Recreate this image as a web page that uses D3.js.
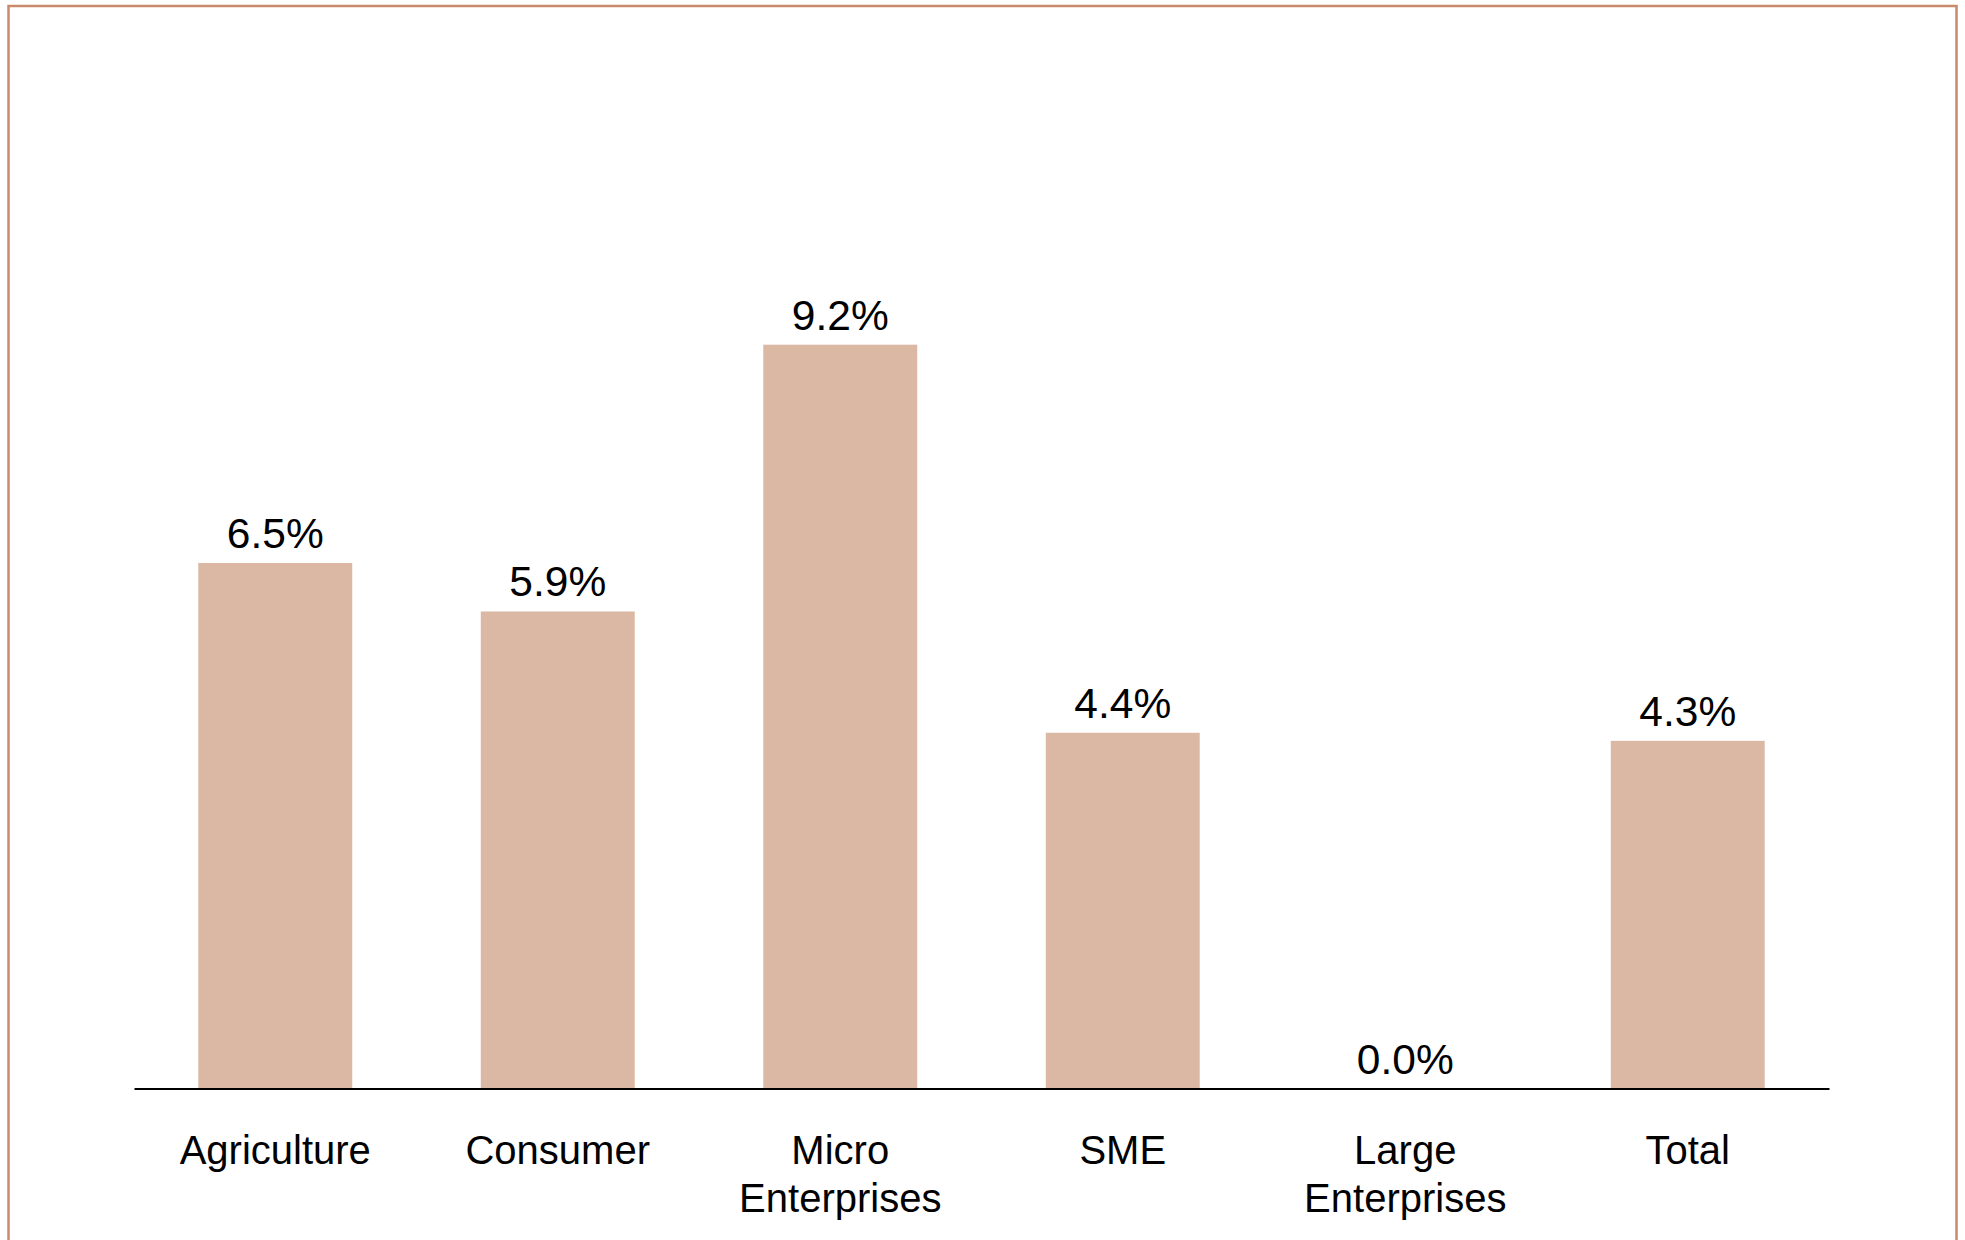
<!DOCTYPE html>
<html>
<head>
<meta charset="utf-8">
<script src="https://cdn.jsdelivr.net/npm/d3@7/dist/d3.min.js"></script>
<style>
  html, body { margin: 0; padding: 0; background: #fff; }
  svg { display: block; }
</style>
</head>
<body>
<div id="chart"></div>
<script>
// NPL ratio by loan segment
const categories = ["Agriculture", "Consumer", "Micro\nEnterprises", "SME", "Large\nEnterprises", "Total"];
const values = [6.5, 5.9, 9.2, 4.4, 0.0, 4.3];

const W = 1965, H = 1240;
const svg = d3.select("#chart").append("svg")
  .attr("width", W).attr("height", H);

// outer frame (bottom edge runs off the page)
svg.append("rect")
  .attr("x", 8.5).attr("y", 6).attr("width", 1948).attr("height", 1300)
  .attr("fill", "none").attr("stroke", "#C98A6B").attr("stroke-width", 2.5);

const x = d3.scaleBand().domain(categories).range([134, 1829]).paddingInner(0.455).paddingOuter(0.2275);
const y = d3.scaleLinear().domain([0, 10]).range([1088.5, 280]);

const font = "'Liberation Sans', Arial, Helvetica, sans-serif";

svg.append("g").selectAll("rect").data(values).join("rect")
  .attr("x", (d, i) => x(categories[i]))
  .attr("width", x.bandwidth())
  .attr("y", d => y(d))
  .attr("height", d => y(0) - y(d))
  .attr("fill", "#DBB8A4");

// value labels
svg.append("g").selectAll("text").data(values).join("text")
  .attr("x", (d, i) => x(categories[i]) + x.bandwidth() / 2)
  .attr("y", d => y(d) - 15)
  .attr("text-anchor", "middle")
  .attr("font-family", font).attr("font-size", 42.5).attr("fill", "#000")
  .text(d => d.toFixed(1) + "%");

// category axis
const axis = svg.append("g").attr("transform", `translate(0,${y(0)})`)
  .call(d3.axisBottom(x).tickSize(0).tickFormat(""));
axis.select(".domain").attr("stroke", "#000").attr("stroke-width", 1.8);

svg.append("g").selectAll("text").data(categories).join("text")
  .attr("x", d => x(d) + x.bandwidth() / 2)
  .attr("y", 1164)
  .attr("text-anchor", "middle")
  .attr("font-family", font).attr("font-size", 40).attr("fill", "#000")
  .each(function(d) {
    d.split("\n").forEach((line, k) => {
      d3.select(this).append("tspan")
        .attr("x", x(d) + x.bandwidth() / 2)
        .attr("dy", k === 0 ? 0 : 48)
        .text(line);
    });
  });
</script>
</body>
</html>
